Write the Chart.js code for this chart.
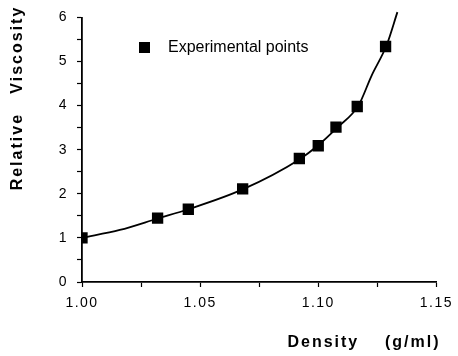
<!DOCTYPE html>
<html>
<head>
<meta charset="utf-8">
<script src="https://cdn.jsdelivr.net/npm/chart.js@4/dist/chart.umd.min.js"></script>
<style>
  html, body { margin: 0; padding: 0; background: #fff; }
  #wrap { width: 458px; height: 356px; }
</style>
</head>
<body>
<div id="wrap"><canvas id="viscChart" width="458" height="356"></canvas></div>
<script>
// experimental points
const densityPts = [1.000, 1.032, 1.045, 1.068, 1.092, 1.100, 1.1075, 1.1165, 1.1285];
const viscosityPts = [1.00, 1.45, 1.65, 2.11, 2.80, 3.09, 3.51, 3.98, 5.34];

// fitted curve
const curveDensity = [1.000, 1.016, 1.032, 1.045, 1.068, 1.092, 1.100, 1.108, 1.117, 1.1225, 1.129, 1.1335];
const curveViscosity = [1.00, 1.18, 1.44, 1.65, 2.10, 2.78, 3.10, 3.50, 4.00, 4.67, 5.38, 6.12];

const xTickLabels = ['1.00', '1.05', '1.10', '1.15'];
const yTickLabels = ['0', '1', '2', '3', '4', '5', '6'];

const legendText = 'Experimental points';
const xTitle = 'Density    (g/ml)';
const yTitle = 'Relative   Viscosity';

const FONT = '"Liberation Sans", Arial, Helvetica, sans-serif';

// titles + legend drawn by hand so they can sit where the original has them
const extrasPlugin = {
  id: 'extras',
  beforeDraw(chart) {
    chart.ctx.letterSpacing = '1.5px';
  },
  afterDraw(chart) {
    const ctx = chart.ctx;
    ctx.save();
    ctx.fillStyle = '#000';
    ctx.letterSpacing = '2px';
    ctx.font = 'bold 16px ' + FONT;
    ctx.textAlign = 'center';
    ctx.textBaseline = 'middle';
    ctx.fillText(xTitle, 364, 343);

    ctx.save();
    ctx.translate(18, 98);
    ctx.rotate(-Math.PI / 2);
    ctx.fillText(yTitle, 0, 0);
    ctx.restore();

    // legend
    ctx.letterSpacing = '0px';
    ctx.fillRect(139, 42, 11, 11);
    ctx.font = '16px ' + FONT;
    ctx.textAlign = 'left';
    ctx.fillText(legendText, 168, 48);
    ctx.restore();
  }
};

const ctx = document.getElementById('viscChart').getContext('2d');
const viscChart = new Chart(ctx, {
  type: 'scatter',
  data: {
    datasets: [
      {
        label: 'Fit',
        data: curveDensity.map((d, i) => ({ x: d, y: curveViscosity[i] })),
        showLine: true,
        borderColor: '#000',
        borderWidth: 1.8,
        pointRadius: 0,
        cubicInterpolationMode: 'monotone',
        clip: false
      },
      {
        label: legendText,
        data: densityPts.map((d, i) => ({ x: d, y: viscosityPts[i] })),
        showLine: false,
        pointStyle: 'rect',
        pointRadius: 8,
        backgroundColor: '#000',
        borderColor: '#000',
        borderWidth: 0
      }
    ]
  },
  options: {
    responsive: false,
    animation: false,
    layout: { padding: { top: 10, right: 21, left: 0, bottom: 0 } },
    plugins: {
      legend: { display: false },
      tooltip: { enabled: false }
    },
    scales: {
      x: {
        type: 'linear',
        min: 1.0,
        max: 1.15,
        afterFit(scale) { scale.height = 74; },
        afterBuildTicks(scale) {
          scale.ticks = [];
          for (let i = 0; i <= 6; i++) scale.ticks.push({ value: 1 + i * 0.025 });
        },
        ticks: {
          color: '#000',
          font: { family: FONT, size: 14 },
          padding: 8,
          maxRotation: 0,
          autoSkip: false,
          callback: (v) => {
            const k = Math.round((v - 1) * 1000);
            return k % 50 === 0 ? xTickLabels[k / 50] : '';
          }
        },
        grid: { drawOnChartArea: false, color: '#000', tickLength: 5, tickWidth: 1.2 },
        border: { color: '#000', width: 1.8 }
      },
      y: {
        min: 0,
        max: 6,
        afterFit(scale) { scale.width = 82; },
        ticks: {
          stepSize: 0.5,
          color: '#000',
          font: { family: FONT, size: 14 },
          padding: 9,
          callback: (v) => Number.isInteger(v) ? yTickLabels[v] : ''
        },
        grid: { drawOnChartArea: false, color: '#000', tickLength: 5, tickWidth: 1.2 },
        border: { color: '#000', width: 1.8 }
      }
    }
  },
  plugins: [extrasPlugin]
});
</script>
</body>
</html>
